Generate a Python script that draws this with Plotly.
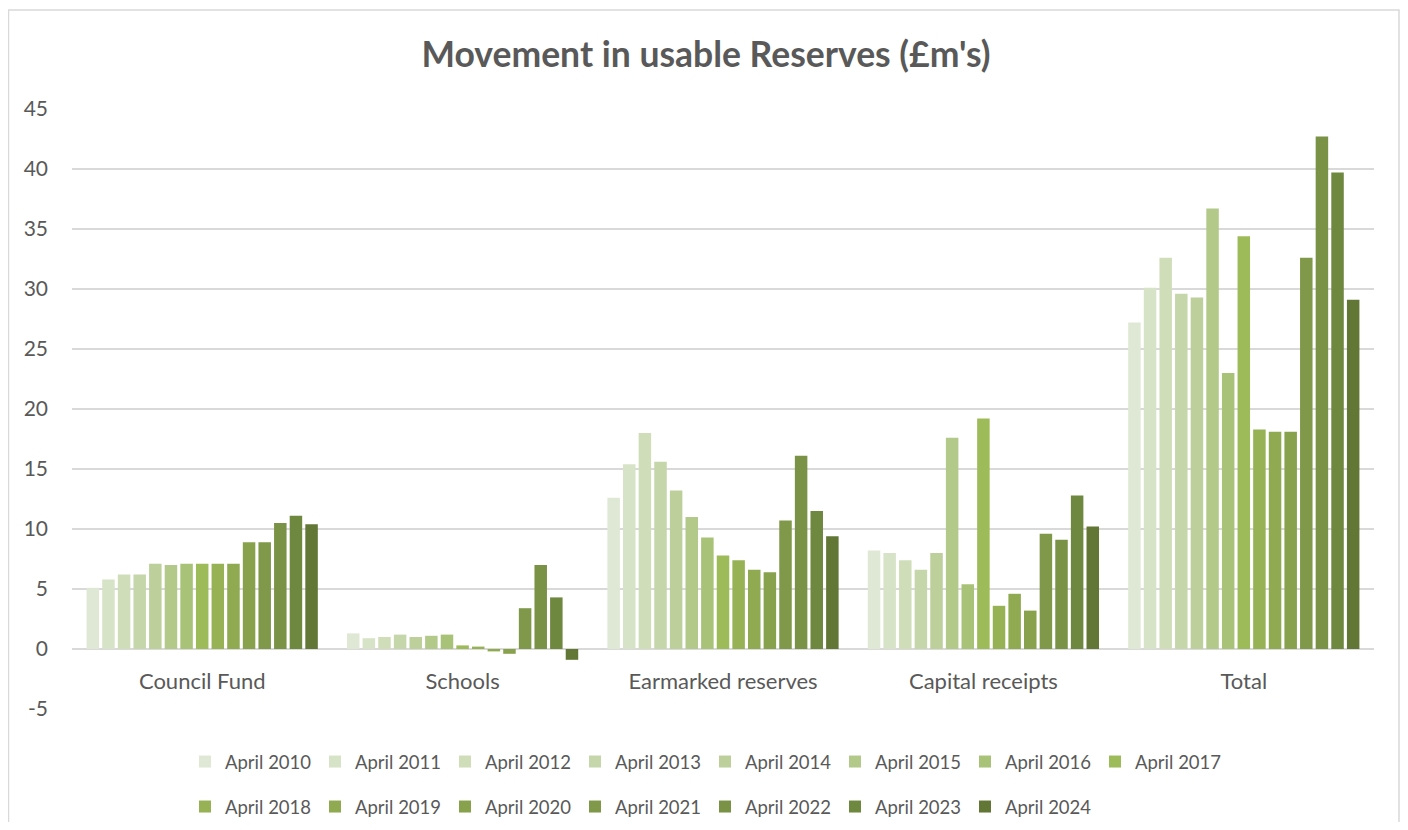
import plotly.graph_objects as go

categories = ["Council Fund", "Schools", "Earmarked reserves", "Capital receipts", "Total"]
years = ["April 2010", "April 2011", "April 2012", "April 2013", "April 2014",
         "April 2015", "April 2016", "April 2017", "April 2018", "April 2019",
         "April 2020", "April 2021", "April 2022", "April 2023", "April 2024"]

council_fund = [5.1, 5.8, 6.2, 6.2, 7.1, 7.0, 7.1, 7.1, 7.1, 7.1, 8.9, 8.9, 10.5, 11.1, 10.4]
schools = [1.3, 0.9, 1.0, 1.2, 1.0, 1.1, 1.2, 0.3, 0.2, -0.2, -0.4, 3.4, 7.0, 4.3, -0.9]
earmarked = [12.6, 15.4, 18.0, 15.6, 13.2, 11.0, 9.3, 7.8, 7.4, 6.6, 6.4, 10.7, 16.1, 11.5, 9.4]
capital = [8.2, 8.0, 7.4, 6.6, 8.0, 17.6, 5.4, 19.2, 3.6, 4.6, 3.2, 9.6, 9.1, 12.8, 10.2]
total = [27.2, 30.1, 32.6, 29.6, 29.3, 36.7, 23.0, 34.4, 18.3, 18.1, 18.1, 32.6, 42.7, 39.7, 29.1]

colors = ["#dfe8d4", "#d7e3c6", "#cfdeb9", "#c5d6aa", "#bdd09c", "#b3c98a", "#a8c277",
          "#9dbb59", "#96b254", "#8faa50", "#88a14c", "#7f9849", "#7a9246", "#6f8840", "#627636"]

y_ticks = [-5, 0, 5, 10, 15, 20, 25, 30, 35, 40, 45]
y_tick_labels = ["-5", "0", "5", "10", "15", "20", "25", "30", "35", "40", "45"]

FONT = "Lato"
GREY = "#595959"

# layout geometry: the page body adds an 8px margin, so the figure is 1392x814
W, H = 1392, 814
OFF = 8
ML, MR, MT, MB = 72 - OFF, W - (1374 - OFF), 109 - OFF, 0
PH = H - MT - MB
AX_BOTTOM = 709 - OFF      # px where y=-5 sits
ZERO_PX = 649 - OFF        # px where y=0 sits


def py(px):
    return (H - MB - px) / PH


def pxx(px):
    return (px - ML) / (W - ML - MR)


fig = go.Figure()
for i, yr in enumerate(years):
    vals = [council_fund[i], schools[i], earmarked[i], capital[i], total[i]]
    fig.add_trace(go.Bar(
        x=categories, y=vals, name=yr,
        marker=dict(color=colors[i], line=dict(width=0)),
        legend="legend" if i < 8 else "legend2",
    ))

LEG_X = pxx(200 - OFF - 15)
LEG_FONT = dict(family=FONT, size=18.5, color=GREY)
fig.update_layout(
    width=W, height=H,
    margin=dict(l=ML, r=MR, t=MT, b=MB, autoexpand=False),
    paper_bgcolor="white", plot_bgcolor="white",
    barmode="group", bargap=0.1, bargroupgap=0.2,
    title=dict(text="<b>Movement in usable Reserves (£m's)</b>",
               x=(706 - OFF) / W, xref="container", xanchor="center",
               y=1 - (55 - OFF) / H, yref="container", yanchor="middle",
               font=dict(family=FONT, size=35.5, color=GREY)),
    font=dict(family=FONT, color=GREY),
    legend=dict(orientation="h", x=LEG_X, xanchor="left", y=py(762 - OFF), yanchor="middle",
                font=LEG_FONT, entrywidth=85, entrywidthmode="pixels", itemclick=False),
    legend2=dict(orientation="h", x=LEG_X, xanchor="left", y=py(807 - OFF), yanchor="middle",
                 font=LEG_FONT, entrywidth=85, entrywidthmode="pixels", itemclick=False),
    showlegend=True,
)

fig.update_yaxes(range=[-5, 45], tickvals=y_ticks, ticktext=y_tick_labels,
                 showgrid=True, gridcolor="#d9d9d9", gridwidth=1.5,
                 zeroline=True, zerolinecolor="#d9d9d9", zerolinewidth=1.5,
                 showline=False, ticks="", ticklabelstandoff=23,
                 tickfont=dict(family=FONT, size=21, color=GREY),
                 domain=[py(AX_BOTTOM), 1])
fig.update_xaxes(anchor="free", position=py(ZERO_PX), showgrid=False, showline=False,
                 zeroline=False, ticks="", ticklabelstandoff=17,
                 tickfont=dict(family=FONT, size=22, color=GREY))

fig.add_shape(type="rect", xref="paper", yref="paper",
              x0=pxx(0.5), x1=pxx(W - 1),
              y0=py(H + 20), y1=py(10 - OFF),
              line=dict(color="#d9d9d9", width=1.5), fillcolor="rgba(0,0,0,0)", layer="below")

fig.write_html("out.html")
